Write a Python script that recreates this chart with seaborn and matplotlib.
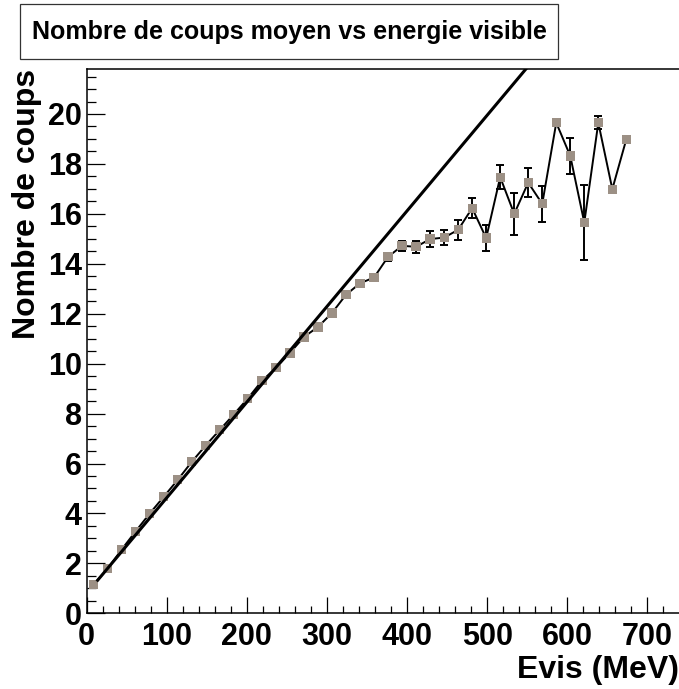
import matplotlib
matplotlib.use("Agg")
import matplotlib.pyplot as plt
from matplotlib.ticker import MultipleLocator
from matplotlib.patches import Rectangle
import seaborn as sns
import numpy as np
import pandas as pd

# ---------------- data ----------------
energy = [8.75, 26.25, 43.75, 61.25, 78.75, 96.25, 113.75, 131.25, 148.75, 166.25,
          183.75, 201.25, 218.75, 236.25, 253.75, 271.25, 288.75, 306.25, 323.75, 341.25,
          358.75, 376.25, 393.75, 411.25, 428.75, 446.25, 463.75, 481.25, 498.75, 516.25,
          533.75, 551.25, 568.75, 586.25, 603.75, 621.25, 638.75, 656.25, 673.75]
counts = [1.16, 1.79, 2.56, 3.29, 4.00, 4.67, 5.35, 6.07, 6.73, 7.35,
          7.97, 8.61, 9.31, 9.83, 10.43, 11.07, 11.47, 12.03, 12.76, 13.22,
          13.45, 14.28, 14.72, 14.68, 14.99, 15.05, 15.36, 16.23, 15.03, 17.47,
          16.00, 17.25, 16.40, 19.65, 18.32, 15.65, 19.65, 16.99, 18.99]
errors = [0.02, 0.02, 0.03, 0.03, 0.03, 0.04, 0.04, 0.05, 0.05, 0.05,
          0.06, 0.06, 0.07, 0.07, 0.08, 0.09, 0.10, 0.11, 0.12, 0.13,
          0.14, 0.15, 0.20, 0.25, 0.33, 0.29, 0.41, 0.40, 0.52, 0.48,
          0.83, 0.57, 0.73, 0.00, 0.72, 1.51, 0.27, 0.00, 0.00]
fit_intercept = 0.80
fit_slope = 0.0383
fit_range = [12.5, 600.0]

title = "Nombre de coups moyen vs energie visible"
xlabel = "Evis (MeV)"
ylabel = "Nombre de coups"

df = pd.DataFrame({"energy": energy, "counts": counts, "err": errors})

# ---------------- style ----------------
sns.set_style("white")
plt.rcParams["font.family"] = ["Liberation Sans", "DejaVu Sans"]
plt.rcParams["font.weight"] = "bold"
for k in ["text.color", "axes.labelcolor", "xtick.color", "ytick.color", "axes.edgecolor"]:
    plt.rcParams[k] = "black"

W, H = 679, 689
fig = plt.figure(figsize=(W / 100, H / 100), dpi=100)
ax_left, ax_right, ax_top, ax_bottom = 86.7, 679.0, 69.3, 613.3
ax = fig.add_axes([ax_left / W, 1 - ax_bottom / H, (ax_right - ax_left) / W, (ax_bottom - ax_top) / H])

marker_col = "#9c9085"

sns.lineplot(data=df, x="energy", y="counts", color="black", lw=1.4, ax=ax,
             sort=False, zorder=2)
ax.errorbar(df["energy"], df["counts"], yerr=df["err"], fmt="none", ecolor="black",
            elinewidth=1.4, capsize=2.8, capthick=1.4, zorder=2)
sns.scatterplot(data=df, x="energy", y="counts", marker="s", s=44, color=marker_col,
                edgecolor="none", linewidth=0, ax=ax, zorder=3)

fx = np.array(fit_range)
ax.plot(fx, fit_intercept + fit_slope * fx, color="black", lw=2.2, zorder=4,
        solid_capstyle="butt")

ax.set_xlim(0, 739.5)
ax.set_ylim(0, 21.79)

ax.xaxis.set_major_locator(MultipleLocator(100))
ax.xaxis.set_minor_locator(MultipleLocator(20))
ax.yaxis.set_major_locator(MultipleLocator(2))
ax.yaxis.set_minor_locator(MultipleLocator(0.5))

ax.tick_params(axis="x", which="major", direction="in", length=11.5, width=0.9,
               labelsize=22, pad=6.5, bottom=True, top=False, colors="black")
ax.tick_params(axis="x", which="minor", direction="in", length=5.4, width=0.9,
               bottom=True, top=False, colors="black")
ax.tick_params(axis="y", which="major", direction="in", length=12.7, width=0.9,
               labelsize=22, pad=3.4, left=True, right=False, colors="black")
ax.tick_params(axis="y", which="minor", direction="in", length=6.5, width=0.9,
               left=True, right=False, colors="black")
for lab in ax.get_xticklabels() + ax.get_yticklabels():
    lab.set_fontweight("bold")

for s in ["left", "bottom", "top"]:
    ax.spines[s].set_color("black")
    ax.spines[s].set_linewidth(1.1)
ax.spines["right"].set_visible(False)

ax.set_xlabel(xlabel, fontsize=23, fontweight="bold", loc="right", labelpad=2, color="black")
ax.set_ylabel(ylabel, fontsize=23, fontweight="bold", loc="top", labelpad=4, color="black")

# title box
bx0, by0, bx1, by1 = 20, 4, 558, 59
fig.patches.append(Rectangle((bx0 / W, 1 - by1 / H), (bx1 - bx0) / W, (by1 - by0) / H,
                             transform=fig.transFigure, facecolor="white",
                             edgecolor="#333333", lw=0.9))
fig.text((bx0 + bx1) / 2 / W, 1 - (by0 + by1) / 2 / H, title, fontsize=18,
         fontweight="bold", ha="center", va="center", color="black")

fig.savefig("out.png", dpi=100)
